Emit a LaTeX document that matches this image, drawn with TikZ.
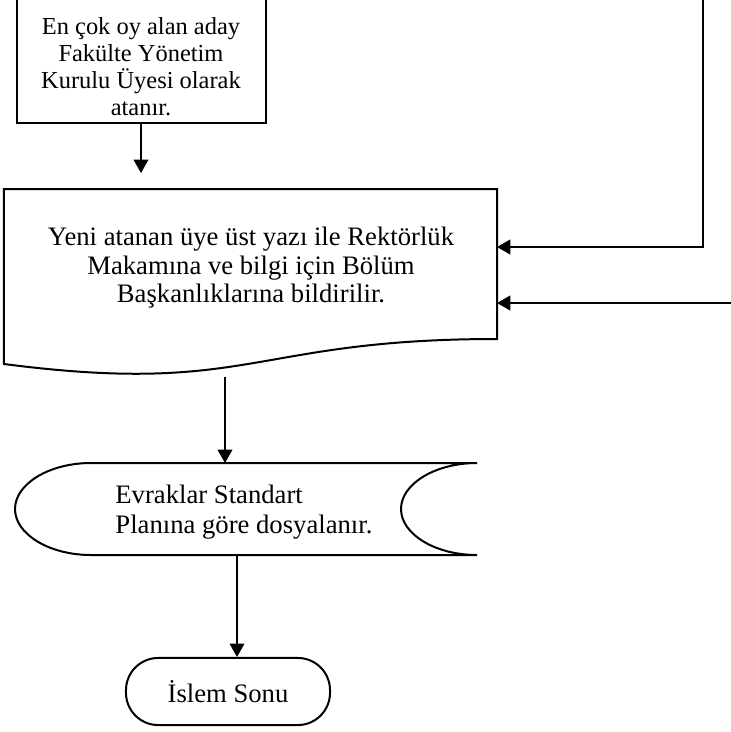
\documentclass[tikz,border=0pt]{standalone}
\usepackage{fontspec}
\setmainfont{Liberation Serif}
\usetikzlibrary{arrows.meta,positioning}
\tikzset{
  >={Triangle[length=6pt,width=6.6pt]},
  kenar/.style={draw=black, line width=0.9pt, line join=miter},
  yazi/.style={align=center, inner sep=0pt, font=\fontsize{12}{13.5}\selectfont},
  kucukyazi/.style={align=center, inner sep=0pt, font=\fontsize{11}{12.1}\selectfont},
  bitis/.style={kenar, rounded corners=14.5pt, minimum width=91.8pt, minimum height=30.2pt,
              inner sep=0pt, font=\fontsize{12}{13.5}\selectfont},
  akis/.style={->, draw=black, line width=0.7pt},
}

\begin{document}
\begin{tikzpicture}[x=0.45pt,y=-0.45pt]
  \useasboundingbox (0,0) rectangle (731,732);
  \clip (0,0) rectangle (731,732);

  % atama kutusu (ustu sayfa disinda)
  \draw[kenar] (17,-40) rectangle (266,123);
  \node[kucukyazi] (atama) at (141,67) {En çok oy alan aday\\Fakülte Yönetim\\Kurulu Üyesi olarak\\atanır.};
  \coordinate (atamaalt) at (141,123);
  \coordinate (belgeust) at (141,173);

  % belge sekli
  \draw[kenar] (4,189) -- (497,189) -- (497,339)
     .. controls (251,339) and (251,396) .. (4,364) -- cycle;
  \node[yazi,font=\fontsize{12}{12.8}\selectfont] (bildirim) at (251,268) {Yeni atanan üye üst yazı ile Rektörlük\\Makamına ve bilgi için Bölüm\\Başkanlıklarına bildirilir.};
  \coordinate (belgesag1) at (497,247);
  \coordinate (belgesag2) at (497,303);
  \coordinate (belgealt) at (225,377);

  % disaridan gelen baglantilar
  \coordinate (ustgiris) at (703,0);
  \coordinate (altgiris) at (731,303);

  % arsiv (kayitli veri) sekli
  \draw[kenar] (91,463) -- (477,463)
     .. controls (435,463) and (401,484) .. (401,509)
     .. controls (401,534) and (435,555) .. (477,555) -- (91,555)
     .. controls (49,555) and (15,534) .. (15,509)
     .. controls (15,484) and (49,463) .. (91,463) -- cycle;
  \node[yazi,align=left,anchor=west] (arsiv) at (115,512) {Evraklar Standart\\Planına göre dosyalanır.};
  \coordinate (arsivust) at (225,463);
  \coordinate (arsivalt) at (237,555);

  % islem sonu
  \node[bitis] (son) at (228,691.5) {İslem Sonu};

  % oklar
  \draw[akis] (atamaalt) -- (belgeust);
  \draw[akis,line width=0.9pt] (ustgiris) |- (belgesag1);
  \draw[akis,line width=0.9pt] (altgiris) -- (belgesag2);
  \draw[akis] (belgealt) -- (arsivust);
  \draw[akis] (arsivalt) -- (arsivalt |- son.north);
\end{tikzpicture}
\end{document}
